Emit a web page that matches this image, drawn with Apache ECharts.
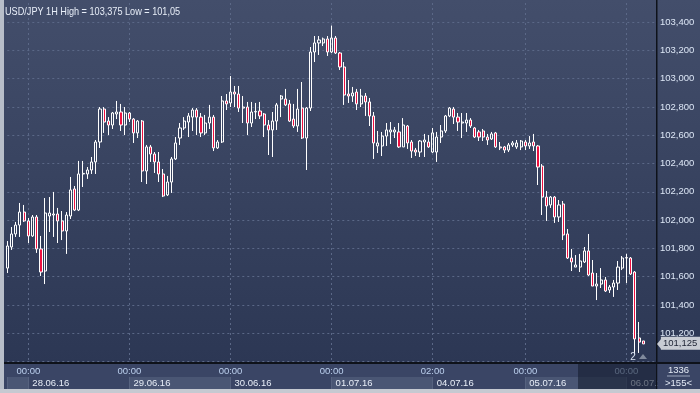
<!DOCTYPE html>
<html><head><meta charset="utf-8">
<script src="https://cdn.jsdelivr.net/npm/echarts@6/dist/echarts.min.js"></script>
<style>
html,body{margin:0;padding:0;width:700px;height:393px;overflow:hidden;background:#3a4565;}
#c{width:700px;height:393px;background:linear-gradient(to bottom,#434e6b 0px,#2c3754 363px,#3a4565 363px,#3a4565 393px);}
</style></head><body><div id="c"></div>
<script>
const titleText = 'USD/JPY 1H High = 103,375 Low = 101,05';
// trading days: [date, first hour, last hour]
const days = [
  ['27.06.16', 19, 23], ['28.06.16', 0, 23], ['29.06.16', 0, 23], ['30.06.16', 0, 23],
  ['01.07.16', 0, 23], ['04.07.16', 2, 23], ['05.07.16', 0, 23], ['06.07.16', 0, 7]
];
const open = [
101.661,101.810,101.902,101.965,102.057,101.994,101.888,102.022,101.796,101.640,
102.029,102.036,102.043,101.994,101.923,102.029,102.220,102.071,102.326,102.326,
102.354,102.411,102.552,102.785,102.700,102.672,102.750,102.764,102.672,102.757,
102.714,102.616,102.700,102.347,102.517,102.467,102.411,102.326,102.178,102.269,
102.432,102.580,102.651,102.693,102.728,102.778,102.728,102.616,102.686,102.728,
102.510,102.552,102.842,102.828,102.905,102.891,102.792,102.799,102.686,102.764,
102.771,102.750,102.672,102.637,102.700,102.856,102.856,102.821,102.714,102.665,
102.792,102.580,102.792,103.188,103.252,103.252,103.280,103.188,103.287,103.181,
103.082,102.891,102.877,102.905,102.821,102.877,102.835,102.736,102.524,102.524,
102.594,102.623,102.623,102.623,102.517,102.665,102.552,102.495,102.481,102.552,
102.552,102.481,102.481,102.587,102.630,102.736,102.785,102.728,102.686,102.686,
102.707,102.651,102.623,102.630,102.587,102.573,102.616,102.517,102.517,102.495,
102.531,102.517,102.517,102.552,102.524,102.552,102.524,102.382,102.163,102.107,
102.163,102.022,102.114,101.902,101.732,101.668,101.668,101.704,101.782,101.626,
101.534,101.548,101.577,101.506,101.527,101.555,101.661,101.732,101.732,101.633,
101.167,101.146
];
const close = [
101.817,101.902,101.965,102.057,101.994,101.888,102.022,101.796,101.633,102.050,
102.050,102.043,101.994,101.923,102.036,102.213,102.071,102.326,102.330,102.354,
102.411,102.552,102.785,102.693,102.672,102.757,102.764,102.672,102.757,102.714,
102.616,102.700,102.347,102.517,102.467,102.411,102.326,102.170,102.269,102.432,
102.545,102.651,102.700,102.736,102.778,102.728,102.616,102.686,102.728,102.510,
102.552,102.842,102.821,102.905,102.891,102.792,102.799,102.686,102.764,102.768,
102.736,102.672,102.637,102.700,102.814,102.877,102.814,102.700,102.665,102.785,
102.580,102.792,103.188,103.252,103.273,103.280,103.188,103.287,103.181,103.082,
102.884,102.877,102.898,102.821,102.877,102.835,102.736,102.545,102.545,102.594,
102.637,102.637,102.637,102.517,102.672,102.545,102.488,102.481,102.559,102.566,
102.517,102.616,102.587,102.630,102.736,102.792,102.728,102.693,102.693,102.707,
102.665,102.587,102.587,102.587,102.566,102.609,102.517,102.510,102.495,102.531,
102.545,102.545,102.559,102.524,102.545,102.524,102.375,102.163,102.100,102.163,
102.022,102.107,101.895,101.732,101.704,101.683,101.711,101.782,101.612,101.534,
101.548,101.577,101.499,101.527,101.555,101.668,101.732,101.735,101.619,101.160,
101.138,101.125
];
const low = [
101.626,101.789,101.881,101.881,101.987,101.838,101.881,101.768,101.605,101.548,
101.916,101.881,101.838,101.859,101.761,102.008,102.064,102.064,102.234,102.291,
102.326,102.326,102.510,102.616,102.601,102.644,102.714,102.630,102.601,102.693,
102.545,102.580,102.269,102.255,102.411,102.333,102.269,102.163,102.170,102.192,
102.425,102.531,102.637,102.587,102.630,102.601,102.587,102.601,102.644,102.488,
102.503,102.545,102.778,102.799,102.799,102.764,102.686,102.601,102.658,102.714,
102.714,102.587,102.460,102.446,102.637,102.728,102.806,102.693,102.651,102.623,
102.573,102.354,102.771,103.117,103.167,103.230,103.160,103.181,103.174,103.061,
102.814,102.828,102.835,102.778,102.799,102.736,102.665,102.432,102.474,102.453,
102.524,102.538,102.580,102.510,102.517,102.503,102.439,102.453,102.446,102.446,
102.510,102.474,102.411,102.545,102.616,102.728,102.679,102.630,102.580,102.623,
102.651,102.580,102.559,102.559,102.531,102.566,102.510,102.495,102.474,102.481,
102.517,102.503,102.495,102.495,102.503,102.488,102.248,102.036,101.994,102.086,
101.980,101.987,101.859,101.725,101.640,101.668,101.633,101.697,101.605,101.534,
101.435,101.520,101.492,101.485,101.457,101.506,101.647,101.555,101.612,101.050,
101.061,101.125
];
const high = [
101.852,101.951,101.987,102.121,102.107,102.015,102.036,102.036,101.888,102.156,
102.163,102.199,102.086,102.064,102.057,102.305,102.241,102.418,102.418,102.375,
102.446,102.566,102.799,102.799,102.728,102.764,102.842,102.821,102.799,102.764,
102.721,102.707,102.707,102.531,102.531,102.481,102.481,102.361,102.312,102.446,
102.587,102.686,102.728,102.757,102.792,102.792,102.757,102.743,102.814,102.743,
102.566,102.877,102.891,103.018,102.948,102.948,102.877,102.835,102.835,102.828,
102.835,102.757,102.707,102.764,102.828,102.884,102.927,102.849,102.821,102.927,
102.976,102.799,103.223,103.301,103.301,103.290,103.301,103.375,103.301,103.188,
103.117,102.990,102.941,102.927,102.927,102.898,102.863,102.764,102.630,102.623,
102.686,102.693,102.658,102.686,102.721,102.672,102.566,102.510,102.566,102.609,
102.601,102.651,102.623,102.672,102.743,102.799,102.799,102.757,102.757,102.757,
102.721,102.658,102.637,102.644,102.609,102.623,102.623,102.552,102.524,102.545,
102.559,102.566,102.566,102.566,102.594,102.609,102.531,102.396,102.206,102.170,
102.170,102.142,102.135,101.937,101.796,101.753,101.761,101.810,101.902,101.718,
101.626,101.661,101.598,101.541,101.577,101.711,101.746,101.761,101.739,101.640,
101.280,101.146
];
const yMin = 101.0, yMax = 103.4, yStep = 0.2;
const lastPrice = 101.125;
const infoTop = '1336', infoBottom = '>155<', markerText = '2';

const categories = [];
const dayStartIdx = [];
days.forEach(([d, from, to]) => {
  dayStartIdx.push(categories.length);
  for (let h = from; h <= to; h++) categories.push(d + ' ' + String(h).padStart(2, '0') + ':00');
});
const labelIdx = dayStartIdx.slice(1);
const areaIdx = [0, ...labelIdx, categories.length - 1];
const data = open.map((o, i) => [o, close[i], low[i], high[i]]);
const fmt = v => (+v).toFixed(3).replace('.', ',');

const FONT = "'Liberation Sans', Arial, sans-serif";
const GL = 7.3, GW = 648.6;
const gridDash = { color: '#5b6887', type: [2, 3], width: 1 };

const chart = echarts.init(document.getElementById('c'), null, { renderer: 'canvas' });
chart.setOption({
  animation: false,
  grid: [
    { left: GL, width: GW, top: 22, height: 339.6 },
    { left: GL, width: GW, top: 3, height: 360 },
    { left: GL, width: GW, top: 377, height: 12 }
  ],
  xAxis: [
    { gridIndex: 0, type: 'category', data: categories, boundaryGap: false, show: false },
    {
      gridIndex: 1, type: 'category', data: categories, boundaryGap: false,
      axisLine: { show: false }, axisTick: { show: false },
      splitLine: { show: true, interval: i => labelIdx.includes(i), lineStyle: gridDash },
      axisLabel: { interval: i => labelIdx.includes(i), formatter: v => v.slice(9), color: '#bcd0ee', fontSize: 9.5, fontFamily: FONT, margin: 3 }
    },
    {
      gridIndex: 2, type: 'category', data: categories, boundaryGap: false, position: 'top',
      axisLine: { show: true, lineStyle: { color: '#56627f' } }, axisTick: { show: false },
      splitLine: { show: true, interval: i => areaIdx.includes(i), lineStyle: { color: '#56627f' } },
      splitArea: { show: true, interval: i => areaIdx.includes(i), areaStyle: { color: ['#4a5674', 'rgba(0,0,0,0)'] } },
      axisLabel: { inside: true, interval: i => labelIdx.includes(i), formatter: v => v.slice(0, 8), align: 'left', padding: [0, 0, 0, 4], margin: 1, color: '#e8eef8', fontSize: 9.5, fontFamily: FONT }
    }
  ],
  yAxis: [
    {
      gridIndex: 0, type: 'value', min: yMin, max: yMax, interval: yStep, position: 'right',
      axisLine: { show: false }, axisTick: { show: false },
      splitLine: { show: true, lineStyle: gridDash },
      axisLabel: { showMinLabel: false, margin: 4, formatter: fmt, color: '#dde7f6', fontSize: 9.5, fontFamily: FONT }
    },
    { gridIndex: 1, type: 'value', show: false },
    { gridIndex: 2, type: 'value', show: false }
  ],
  series: [{
    type: 'candlestick', xAxisIndex: 0, yAxisIndex: 0, data: data, barWidth: 2.6, clip: false,
    itemStyle: { color: 'rgba(0,0,0,0)', color0: '#ee1040', borderColor: '#ffffff', borderColor0: '#ffffff', borderWidth: 1 },
    markLine: {
      silent: true, symbol: 'none', data: [{ yAxis: lastPrice }], lineStyle: { color: 'rgba(0,0,0,0)', width: 0 },
      label: { show: true, position: 'end', distance: 5, formatter: () => fmt(lastPrice), backgroundColor: '#c8ccd4', color: '#1c2233', padding: [2, 3, 1, 2], fontSize: 9.5, fontFamily: FONT }
    }
  }],
  graphic: [
    { type: 'text', z: 101, x: 5, y: 12, scaleX: 0.83, style: { text: titleText, fill: '#e8eef8', font: '11px ' + FONT, align: 'left', verticalAlign: 'middle' } },
    { type: 'rect', z: 100, shape: { x: 0, y: 0, width: 4, height: 393 }, style: { fill: '#b8bec9' } },
    { type: 'rect', z: 100, shape: { x: 0, y: 389, width: 700, height: 4 }, style: { fill: '#c5c9d1' } },
    { type: 'rect', z: 100, shape: { x: 4, y: 362, width: 696, height: 2 }, style: { fill: '#0e121a' } },
    { type: 'rect', z: 100, shape: { x: 656, y: 0, width: 1.5, height: 389 }, style: { fill: '#0e121a' } },
    { type: 'rect', z: 100, shape: { x: 578, y: 364, width: 78, height: 25 }, style: { fill: 'rgba(22,30,48,0.6)' } },
    { type: 'rect', z: 100, shape: { x: 657.5, y: 364, width: 42.5, height: 25 }, style: { fill: '#3a4565' } },
    { type: 'polygon', z: 101, shape: { points: [[657, 344], [661.5, 338.5], [661.5, 349.5]] }, style: { fill: '#c8ccd4' } },
    { type: 'rect', z: 101, shape: { x: 667, y: 375.5, width: 23, height: 1 }, style: { fill: '#9aa6bc' } },
    { type: 'text', z: 101, x: 678.5, y: 370, style: { text: infoTop, fill: '#e4ebf6', font: '9.5px ' + FONT, align: 'center', verticalAlign: 'middle' } },
    { type: 'text', z: 101, x: 678.5, y: 383, style: { text: infoBottom, fill: '#e4ebf6', font: '9.5px ' + FONT, align: 'center', verticalAlign: 'middle' } },
    { type: 'text', z: 101, x: 633, y: 357, style: { text: markerText, fill: '#d8e2f2', font: '10px ' + FONT, align: 'center', verticalAlign: 'middle' } },
    { type: 'polygon', z: 101, shape: { points: [[639, 359], [643, 354], [647, 359]] }, style: { fill: '#808a9c' } }
  ]
});
</script></body></html>
